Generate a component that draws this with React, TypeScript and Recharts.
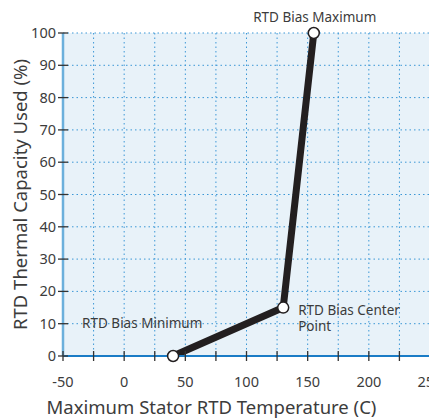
import React from 'react';
import { LineChart, Line, XAxis, YAxis, CartesianGrid, LabelList, Label } from 'recharts';

const temperatures = [40, 130, 155];
const capacities = [0, 15, 100];
const pointNames = ['RTD Bias Minimum', 'RTD Bias Center Point', 'RTD Bias Maximum'];

const xTicks = [-50, -25, 0, 25, 50, 75, 100, 125, 150, 175, 200, 225, 250];
const yTicks = [0, 10, 20, 30, 40, 50, 60, 70, 80, 90, 100];

const data = temperatures.map((t, i) => ({ t, used: capacities[i], name: pointNames[i] }));

const FONT = '"Noto Sans", sans-serif';
const TEXT = '#3c3c3c';

const XTick = (props: any) => {
  const { x, y, payload } = props;
  const v = payload.value;
  return (
    <g>
      <line x1={x} x2={x} y1={y - 5} y2={y + 5} stroke="#333" strokeWidth={1.3} />
      {v % 50 === 0 && (
        <text x={x} y={y + 31} textAnchor="middle" fill={TEXT} fontSize={14.5} fontFamily={FONT}>
          {v}
        </text>
      )}
    </g>
  );
};

const YTick = (props: any) => {
  const { x, y, payload } = props;
  return (
    <g>
      <line x1={x - 5} x2={x + 5} y1={y} y2={y} stroke="#333" strokeWidth={1.3} />
      <text x={x - 7} y={y + 5} textAnchor="end" fill={TEXT} fontSize={14.5} fontFamily={FONT}>
        {payload.value}
      </text>
    </g>
  );
};

const PointLabel = (props: any) => {
  const { x, y, index } = props;
  const common = { fill: TEXT, fontSize: 13.5, fontFamily: FONT };
  if (index === 0) {
    return (
      <text x={x - 91} y={y - 28} {...common}>
        {pointNames[0]}
      </text>
    );
  }
  if (index === 1) {
    return (
      <text x={x + 15} y={y + 7} {...common}>
        <tspan x={x + 15}>RTD Bias Center</tspan>
        <tspan x={x + 15} dy={16}>Point</tspan>
      </text>
    );
  }
  return (
    <text x={x + 1} y={y - 11} textAnchor="middle" {...common}>
      {pointNames[2]}
    </text>
  );
};

export default function App() {
  return (
    <div style={{ width: 429, overflow: 'hidden' }}>
      <LineChart width={440} height={412} data={data} margin={{ top: 25, right: 18, bottom: 0, left: 0 }}>
        <CartesianGrid stroke="#3b97d6" strokeDasharray="1.5 3" fill="#e8f2f9" fillOpacity={1} />
        <XAxis
          dataKey="t"
          type="number"
          domain={[-50, 250]}
          ticks={xTicks}
          interval={0}
          height={64}
          tickSize={0}
          tickMargin={0}
          tickLine={false}
          tick={<XTick />}
          axisLine={{ stroke: '#1a7cc6', strokeWidth: 2 }}
        >
          <Label
            content={(p: any) => {
              const vb = p.viewBox;
              return (
                <text x={vb.x + vb.width / 2 - 35} y={vb.y + 58} textAnchor="middle" fill={TEXT} fontSize={18.5} fontFamily={FONT}>
                  Maximum Stator RTD Temperature (C)
                </text>
              );
            }}
          />
        </XAxis>
        <YAxis
          type="number"
          domain={[0, 100]}
          ticks={yTicks}
          interval={0}
          width={55}
          tickSize={0}
          tickMargin={0}
          tickLine={false}
          tick={<YTick />}
          axisLine={{ stroke: '#6cb0dc', strokeWidth: 2.5 }}
        >
          <Label
            content={(p: any) => {
              const vb = p.viewBox;
              const cy = vb.y + vb.height / 2;
              return (
                <text
                  x={11}
                  y={cy}
                  transform={`rotate(-90 11 ${cy})`}
                  textAnchor="middle"
                  dominantBaseline="central"
                  fill={TEXT}
                  fontSize={18.5}
                  fontFamily={FONT}
                >
                  RTD Thermal Capacity Used (%)
                </text>
              );
            }}
          />
        </YAxis>
        <Line
          dataKey="used"
          stroke="#231f20"
          strokeWidth={7}
          isAnimationActive={false}
          dot={{ r: 5.5, fill: '#fff', stroke: '#231f20', strokeWidth: 1.5 }}
          activeDot={false}
        >
          <LabelList dataKey="name" content={<PointLabel />} />
        </Line>
      </LineChart>
    </div>
  );
}
